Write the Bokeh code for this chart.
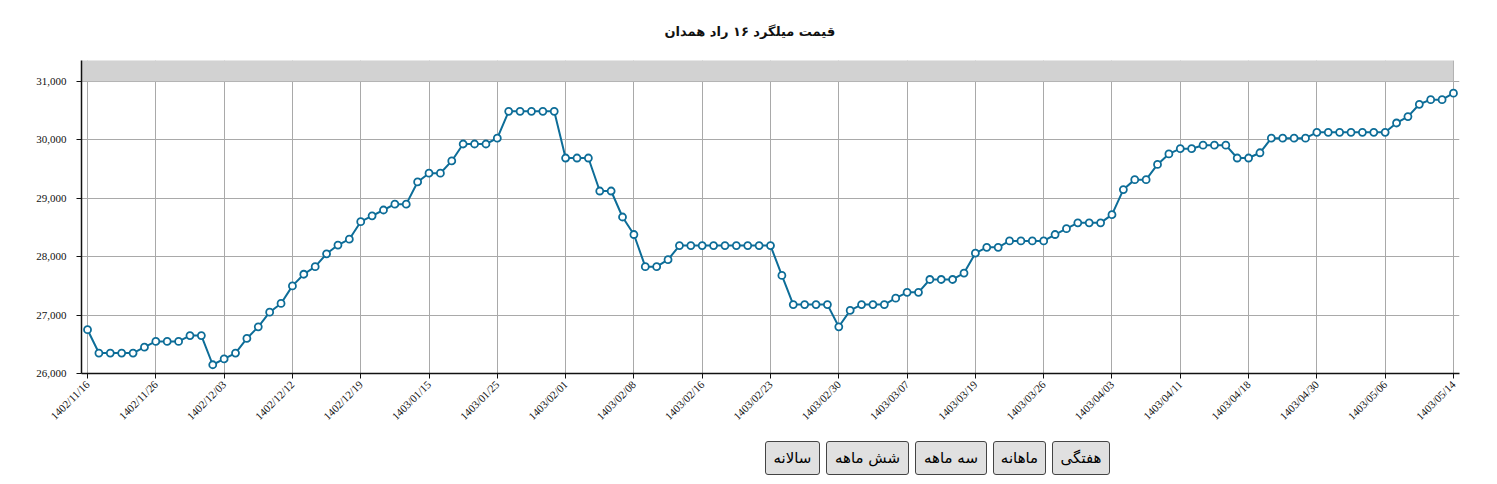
import math
from bokeh.plotting import figure
from bokeh.models import (FixedTicker, NumeralTickFormatter, BoxAnnotation, Button,
                          InlineStyleSheet, Spacer, Range1d)
from bokeh.layouts import column, row
from bokeh.embed import file_html
from bokeh.resources import INLINE

title_text = "قیمت میلگرد ۱۶ راد همدان"

prices = [
    26750, 26350, 26350, 26350, 26350, 26450, 26550, 26550, 26550, 26650,
    26650, 26150, 26250, 26350, 26600, 26800, 27050, 27200, 27500, 27700,
    27830, 28050, 28200, 28300, 28600, 28700, 28800, 28900, 28900, 29280,
    29430, 29430, 29640, 29930, 29930, 29930, 30030, 30490, 30490, 30490,
    30490, 30490, 29690, 29690, 29690, 29125, 29125, 28680, 28380, 27830,
    27830, 27950, 28190, 28190, 28190, 28190, 28190, 28190, 28190, 28190,
    28190, 27680, 27180, 27180, 27180, 27180, 26800, 27080, 27180, 27180,
    27180, 27290, 27390, 27390, 27610, 27610, 27610, 27720, 28060, 28160,
    28160, 28270, 28270, 28270, 28270, 28380, 28480, 28580, 28580, 28580,
    28720, 29150, 29320, 29320, 29580, 29760, 29850, 29850, 29910, 29910,
    29910, 29690, 29690, 29780, 30030, 30030, 30030, 30030, 30130, 30130,
    30130, 30130, 30130, 30130, 30130, 30290, 30400, 30610, 30690, 30690,
    30800,
]

tick_labels = [
    "1402/11/16", "1402/11/26", "1402/12/03", "1402/12/12", "1402/12/19",
    "1403/01/15", "1403/01/25", "1403/02/01", "1403/02/08", "1403/02/16",
    "1403/02/23", "1403/02/30", "1403/03/07", "1403/03/19", "1403/03/26",
    "1403/04/03", "1403/04/11", "1403/04/18", "1403/04/30", "1403/05/06",
    "1403/05/14",
]
tick_step = 6

y_ticks = [26000, 27000, 28000, 29000, 30000, 31000]

button_labels = ["سالانه", "شش ماهه", "سه ماهه", "ماهانه", "هفتگی"]
button_widths = [55, 83, 72, 53, 58]

x = list(range(len(prices)))
tick_pos = [i * tick_step for i in range(len(tick_labels))]

LINE = "#0d6d98"
FONT = "Liberation Serif"

p = figure(width=1489, height=431, output_backend="svg", toolbar_location=None,
           x_range=Range1d(-0.53, len(prices) - 1 + 0.53),
           y_range=Range1d(26000, 31360),
           min_border_left=81, min_border_right=30, min_border_top=59,
           min_border_bottom=58)
p.outline_line_color = None
p.background_fill_color = "white"
p.border_fill_color = "white"

p.title.text = title_text
p.title.align = "left"
p.title.offset = 583
p.title.standoff = 43
p.title.text_font = "DejaVu Sans"
p.title.text_font_size = "13px"
p.title.text_font_style = "bold"
p.title.text_color = "#111111"

# grids
p.xgrid.ticker = FixedTicker(ticks=tick_pos)
p.ygrid.ticker = FixedTicker(ticks=y_ticks)
p.xgrid.grid_line_color = "#a9a9a9"
p.ygrid.grid_line_color = "#a9a9a9"
p.grid.grid_line_width = 1

# gray band on top
band = BoxAnnotation(bottom=31000, right=len(prices) - 1, fill_color="#d2d2d2",
                     fill_alpha=1.0, line_color="#a0a0a0", line_width=1,
                     level="underlay")
p.add_layout(band)

# axes
p.xaxis.ticker = FixedTicker(ticks=tick_pos)
p.xaxis.major_label_overrides = {pos: lab for pos, lab in zip(tick_pos, tick_labels)}
p.xaxis.major_label_orientation = math.pi / 4
p.yaxis.ticker = FixedTicker(ticks=y_ticks)
p.yaxis.formatter = NumeralTickFormatter(format="0,0")
for ax in (p.xaxis, p.yaxis):
    ax.axis_line_color = "#111111"
    ax.axis_line_width = 1.5
    ax.major_tick_line_color = "#111111"
    ax.major_tick_out = 5
    ax.major_tick_in = 0
    ax.minor_tick_line_color = None
    ax.major_label_text_font = FONT
    ax.major_label_text_font_size = "11px"
    ax.major_label_text_color = "#111111"
p.yaxis.major_label_standoff = 10
p.xaxis.major_label_standoff = 4

p.line(x, prices, line_color=LINE, line_width=2)
p.scatter(x, prices, marker="circle", size=7, fill_color="white",
          line_color=LINE, line_width=1.8)

css = InlineStyleSheet(css="""
.bk-btn {
  background: #e0e0e0 !important;
  background-image: none !important;
  border: 1px solid #444 !important;
  border-radius: 3px !important;
  color: #000 !important;
  font-family: 'DejaVu Sans', sans-serif !important;
  font-size: 15px !important;
  padding: 2px 4px !important;
  height: 34px !important;
  box-shadow: none !important;
}
""")

buttons = [Button(label=lab, width=w, height=34, stylesheets=[css],
                  margin=(10, 3, 0, 3))
           for lab, w in zip(button_labels, button_widths)]

layout = column(p, row(Spacer(width=762), *buttons))

open("out.html", "w").write(file_html(layout, INLINE))
